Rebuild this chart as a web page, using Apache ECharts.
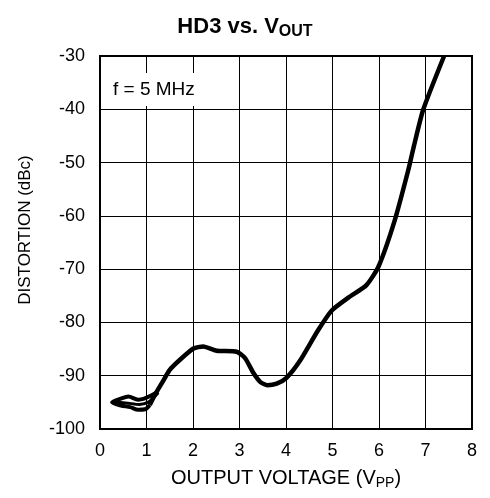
<!DOCTYPE html>
<html>
<head>
<meta charset="utf-8">
<script src="https://cdn.jsdelivr.net/npm/echarts@6/dist/echarts.min.js"></script>
<style>html,body{margin:0;padding:0;background:#fff}#c{width:490px;height:498px}</style>
</head>
<body>
<div id="c"></div>
<script>
// Data (HD3 vs. VOUT, f = 5 MHz)
// Main trace
const voutMain = [1.07, 1.18, 1.33, 1.50, 1.72, 2.01, 2.22, 2.51, 2.94, 3.12, 3.30, 3.45, 3.60, 3.80, 4.01, 4.30, 4.68, 4.98, 5.35, 5.73, 5.99, 6.34, 6.63, 6.74, 6.95, 7.40];
const hd3Main  = [-95.5, -93.6, -91.4, -88.9, -87.0, -84.9, -84.5, -85.3, -85.5, -86.7, -89.5, -91.2, -91.8, -91.5, -90.4, -87.2, -81.6, -77.8, -75.3, -73.0, -69.5, -60.8, -51.4, -47.3, -40.1, -30.0];
// Low-level loop (retraced region near 0.3–1.2 VPP)
const voutLoop = [1.25, 1.10, 0.95, 0.82, 0.61, 0.45, 0.26, 0.45, 0.65, 0.82, 0.97, 1.07];
const hd3Loop  = [-93.0, -93.7, -94.3, -94.5, -93.9, -94.3, -95.0, -95.6, -95.9, -96.4, -96.3, -95.5];
const voutMid  = [0.26, 0.55, 0.85, 1.05, 1.25];
const hd3Mid   = [-95.0, -95.1, -95.4, -94.9, -93.2];
const xTicks = [0, 1, 2, 3, 4, 5, 6, 7, 8];
const yTicks = [-100, -90, -80, -70, -60, -50, -40, -30];

const FONT = '"Liberation Sans", Arial, sans-serif';
const chart = echarts.init(document.getElementById('c'), null, {renderer: 'canvas'});
const pairs = (xs, ys) => xs.map((v, i) => [v, ys[i]]);

chart.setOption({
  animation: false,
  backgroundColor: '#fff',
  title: {
    text: '{m|HD3 vs. V}{s|OUT}',
    left: 'center',
    top: 9,
    textStyle: {
      rich: {
        m: {fontFamily: FONT, fontSize: 22, fontWeight: 'bold', color: '#000'},
        s: {fontFamily: FONT, fontSize: 16, fontWeight: 'bold', color: '#000', padding: [10, 0, 0, 0]}
      }
    }
  },
  grid: {left: 100, right: 18, top: 56, bottom: 69, show: true, borderColor: '#000', borderWidth: 2, backgroundColor: 'transparent'},
  xAxis: {
    type: 'value', min: xTicks[0], max: xTicks[xTicks.length - 1], interval: 1,
    axisLine: {show: true, lineStyle: {color: '#000', width: 2}},
    axisTick: {show: false},
    axisLabel: {color: '#000', fontFamily: FONT, fontSize: 18, margin: 13},
    splitLine: {show: true, lineStyle: {color: '#000', width: 1}},
    name: '{m|OUTPUT VOLTAGE (V}{s|PP}{m|)}',
    nameLocation: 'middle', nameGap: 37,
    nameTextStyle: {
      rich: {
        m: {fontFamily: FONT, fontSize: 20, color: '#000'},
        s: {fontFamily: FONT, fontSize: 14, color: '#000', padding: [10, 0, 0, 0]}
      }
    }
  },
  yAxis: {
    type: 'value', min: yTicks[0], max: yTicks[yTicks.length - 1], interval: 10,
    axisLine: {show: true, lineStyle: {color: '#000', width: 2}},
    axisTick: {show: false},
    axisLabel: {color: '#000', fontFamily: FONT, fontSize: 18, margin: 15},
    splitLine: {show: true, lineStyle: {color: '#000', width: 1}}
  },
  graphic: [
    {type: 'text', x: 25, y: 230, rotation: Math.PI / 2, style: {text: 'DISTORTION (dBc)', fontFamily: FONT, fontSize: 17, fill: '#000', align: 'center', verticalAlign: 'middle'}},
    {type: 'rect', shape: {x: 102, y: 73, width: 102, height: 33}, style: {fill: '#fff'}, z: 50},
    {type: 'text', x: 113, y: 90, style: {text: 'f = 5 MHz', fontFamily: FONT, fontSize: 19, fill: '#000', align: 'left', verticalAlign: 'middle'}, z: 51}
  ],
  series: [{
    type: 'line',
    data: pairs(voutMain, hd3Main),
    showSymbol: false,
    smooth: 0.2,
    lineStyle: {color: '#000', width: 4.5},
    z: 10
  }, {
    type: 'line',
    data: pairs(voutLoop, hd3Loop),
    showSymbol: false,
    smooth: 0.3,
    lineStyle: {color: '#000', width: 4},
    z: 10
  }, {
    type: 'line',
    data: pairs(voutMid, hd3Mid),
    showSymbol: false,
    smooth: 0.3,
    lineStyle: {color: '#000', width: 3},
    z: 10
  }]
});
</script>
</body>
</html>
